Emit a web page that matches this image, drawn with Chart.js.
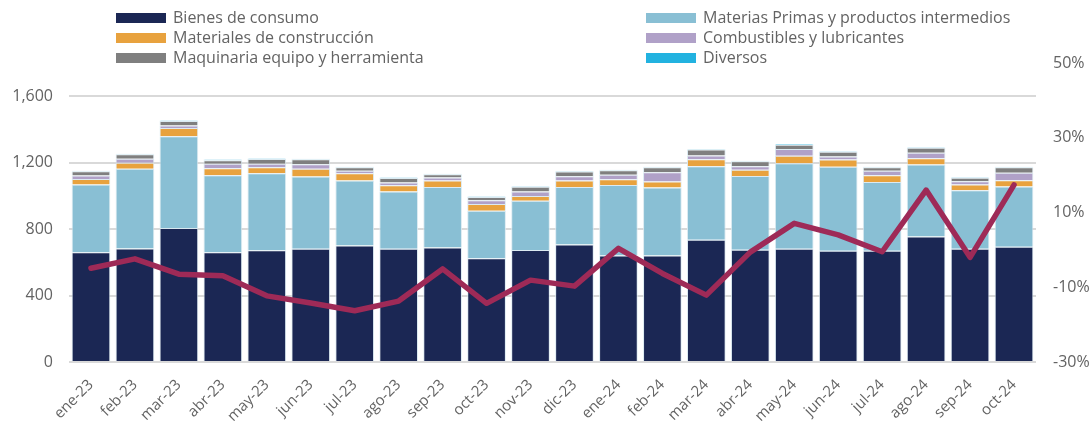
<!DOCTYPE html>
<html>
<head>
<meta charset="utf-8">
<script src="https://cdn.jsdelivr.net/npm/chart.js@4.4.1/dist/chart.umd.min.js"></script>
<style>
html, body { margin: 0; padding: 0; background: #fff; }
#wrap { width: 1089px; height: 421px; position: relative; }
</style>
</head>
<body>
<div id="wrap"><canvas id="chart"></canvas></div>
<script>
// datos (millones, eje izq.) y variación % (eje der.)
const months = ["ene-23","feb-23","mar-23","abr-23","may-23","jun-23","jul-23","ago-23","sep-23","oct-23","nov-23","dic-23",
                "ene-24","feb-24","mar-24","abr-24","may-24","jun-24","jul-24","ago-24","sep-24","oct-24"];
const consumo      = [660,684,807,660,672,682,702,682,690,625,674,708,641,641,736,676,682,670,670,756,682,694];
const materias     = [408,480,552,464,464,434,390,345,364,286,296,346,425,409,442,444,515,505,414,433,352,362];
const construccion = [34,35,49,42,36,48,44,37,38,40,30,38,34,36,42,37,44,44,40,38,34,38];
const combustibles = [20,24,16,27,21,26,16,16,18,22,27,26,28,56,23,21,42,18,28,32,20,46];
const maquinaria   = [27,27,27,22,29,30,21,27,21,21,28,29,27,30,37,30,25,29,21,31,21,32];
const diversos     = [3,3,3,4,3,3,3,3,3,3,3,3,3,3,3,3,5,3,3,3,3,3];
const variacion    = [-4.9,-2.4,-6.5,-6.9,-12.3,-14.2,-16.3,-13.7,-5.1,-14.3,-8.1,-9.7,0.4,-6.3,-12.1,-0.6,7.1,4.0,-0.5,16.0,-2.0,17.4];
const leftTicks  = [0, 400, 800, 1200, 1600];
const rightTicks = [-30, -10, 10, 30, 50];

const textColor = "#636363";
const fontFamily = "'Open Sans', sans-serif";

function bar(label, data, color) {
    return { type: "bar", label, data, backgroundColor: color, borderColor: "rgba(215,232,240,0.9)",
             borderWidth: 1, borderSkipped: "start", yAxisID: "y", stack: "s", order: 1,
             barPercentage: 0.88, categoryPercentage: 1 };
}

// leyenda en dos columnas
const legendPlugin = {
    id: "twoColLegend",
    afterDraw(chart) {
        const ctx = chart.ctx;
        const cols = [116, 646];
        const rows = [18, 38, 58];
        ctx.save();
        ctx.font = "16px " + fontFamily;
        ctx.textBaseline = "middle";
        ctx.textAlign = "left";
        chart.data.datasets.forEach((ds, i) => {
            if (ds.type !== "bar") return;
            const x = cols[i % 2], y = rows[Math.floor(i / 2)];
            ctx.fillStyle = ds.backgroundColor;
            ctx.fillRect(x, y - 5, 50, 10);
            ctx.fillStyle = textColor;
            ctx.fillText(ds.label, x + 57, y);
        });
        ctx.restore();
    }
};

new Chart(document.getElementById("chart"), {
    data: {
        labels: months,
        datasets: [
            bar("Bienes de consumo", consumo, "#1b2754"),
            bar("Materias Primas y productos intermedios", materias, "#89bfd4"),
            bar("Materiales de construcción", construccion, "#e8a23e"),
            bar("Combustibles y lubricantes", combustibles, "#b0a1c8"),
            bar("Maquinaria equipo y herramienta", maquinaria, "#7f7f7f"),
            bar("Diversos", diversos, "#22b2e0"),
            { type: "line", label: "Variación", data: variacion, yAxisID: "y1", order: 0,
              borderColor: "#9e2a57", borderWidth: 5.5, pointRadius: 0, tension: 0,
              borderCapStyle: "round", borderJoinStyle: "round", fill: false }
        ]
    },
    options: {
        responsive: true,
        maintainAspectRatio: false,
        animation: false,
        layout: { padding: { top: 63, left: 0, right: 0, bottom: 0 } },
        plugins: { legend: { display: false }, tooltip: { enabled: false } },
        scales: {
            x: {
                stacked: true,
                grid: { display: false },
                border: { display: false },
                ticks: { color: textColor, font: { family: fontFamily, size: 15 }, minRotation: 45, maxRotation: 45, padding: 6 },
                afterFit(s) { s.height = 59; }
            },
            y: {
                position: "left", stacked: true, min: 0, max: 1800,
                grid: { color: "#d9d9d9", lineWidth: 2, drawTicks: false },
                border: { display: false },
                afterBuildTicks(s) { s.ticks = leftTicks.map(v => ({ value: v })); },
                ticks: { color: textColor, font: { family: fontFamily, size: 16 }, padding: 16,
                         callback: v => v.toLocaleString("en-US") },
                afterFit(s) { s.width = 69; }
            },
            y1: {
                position: "right", min: -30, max: 50,
                grid: { display: false, drawTicks: false },
                border: { display: false },
                afterBuildTicks(s) { s.ticks = rightTicks.map(v => ({ value: v })); },
                ticks: { color: textColor, font: { family: fontFamily, size: 16 }, padding: 17,
                         callback: v => v + "%" },
                afterFit(s) { s.width = 53; }
            }
        }
    },
    plugins: [legendPlugin]
});
</script>
</body>
</html>
